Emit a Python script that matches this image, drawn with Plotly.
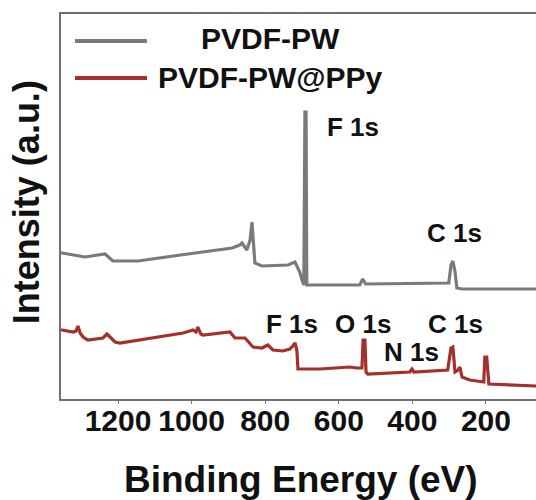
import plotly.graph_objects as go

# Binding energy (eV) and intensity (a.u.) for each survey spectrum
pw_energy = [1355, 1352, 1290, 1235, 1214, 1146, 1010, 890, 869, 863, 850, 841, 836, 833, 828,
             809, 738, 719, 706, 700, 695, 692, 689, 687, 543, 535, 527, 301, 295, 290, 284,
             279, 265, 64]
pw_intensity = [146, 146, 142, 145, 138, 138, 145, 151, 154, 156, 149, 159, 177, 159, 136,
                133, 134, 137, 127, 119, 114, 287, 287, 114, 114, 120, 115, 116, 134, 138, 127,
                111, 110, 110]

ppy_energy = [1355, 1352, 1322, 1314, 1309, 1303, 1295, 1282, 1241, 1230, 1219, 1208, 1195,
              1023, 996, 988, 983, 975, 969, 896, 882, 855, 833, 809, 793, 779, 752, 733, 725,
              719, 714, 711, 651, 570, 551, 537, 534, 529, 526, 521, 407, 401, 396, 304, 295,
              290, 284, 276, 271, 265, 244, 206, 203, 198, 192, 64]
ppy_intensity = [69, 69, 67, 68, 73, 66, 62, 59, 61, 65, 61, 57, 56,
                 66, 69, 67, 72, 65, 64, 67, 61, 61, 52, 51, 54, 49, 48, 50, 53,
                 56, 49, 30, 30, 32, 31, 31, 59, 59, 27, 25, 27, 30, 27, 29, 51,
                 52, 27, 29, 32, 22, 19, 17, 42, 42, 15, 13]

series_names = ["PVDF-PW", "PVDF-PW@PPy"]
series_colors = ["#7a7a7a", "#a3302a"]

# Peak labels: (text, energy, intensity)
peak_labels = [
    ("F 1s", 562, 272),
    ("C 1s", 285, 166),
    ("F 1s", 726, 75),
    ("O 1s", 534, 75),
    ("C 1s", 283, 75),
    ("N 1s", 403, 47),
]

x_ticks = [1200, 1000, 800, 600, 400, 200]

FONT = "Arial, 'Liberation Sans', sans-serif"

fig = go.Figure()
fig.add_trace(go.Scatter(x=pw_energy, y=pw_intensity, mode="lines", name=series_names[0],
                         line=dict(color=series_colors[0], width=3.2)))
fig.add_trace(go.Scatter(x=ppy_energy, y=ppy_intensity, mode="lines", name=series_names[1],
                         line=dict(color=series_colors[1], width=3.2)))

for text, ex, iy in peak_labels:
    fig.add_annotation(x=ex, y=iy, text=text, showarrow=False, xanchor="center", yanchor="middle",
                       font=dict(family=FONT, size=26, color="#111111", weight="bold"))

# Legend drawn as short line samples with centred labels
legend_rows = [(0.930, 0.936), (0.834, 0.834)]
for (ly, ty), name, color in zip(legend_rows, series_names, series_colors):
    fig.add_shape(type="line", xref="paper", yref="paper", x0=0.0295, x1=0.181, y0=ly, y1=ly,
                  line=dict(color=color, width=4))
    fig.add_annotation(xref="paper", yref="paper", x=0.44, y=ty, text=name, showarrow=False,
                       xanchor="center", yanchor="middle",
                       font=dict(family=FONT, size=30, color="#111111", weight="bold"))

# Axis titles
fig.add_annotation(xref="paper", yref="paper", x=0.505, y=-0.210, text="Binding Energy (eV)",
                   showarrow=False, xanchor="center", yanchor="middle",
                   font=dict(family=FONT, size=37, color="#111111", weight="bold"))
fig.add_annotation(xref="paper", yref="paper", x=-0.071, y=0.512, text="Intensity (a.u.)",
                   textangle=-90, showarrow=False, xanchor="center", yanchor="middle",
                   font=dict(family=FONT, size=36, color="#111111", weight="bold"))

fig.update_layout(
    width=536, height=500,
    margin=dict(l=61, r=0, t=14, b=101),
    paper_bgcolor="white", plot_bgcolor="white",
    showlegend=False,
    xaxis=dict(range=[1355, 64], tickvals=x_ticks, ticktext=[str(v) for v in x_ticks],
               ticks="outside", ticklen=3, tickwidth=1, tickcolor="#777777",
               ticklabelstandoff=-9,
               showline=True, linecolor="#707070", linewidth=2, mirror=True,
               showgrid=False, zeroline=False,
               tickfont=dict(family=FONT, size=30, color="#111111", weight="bold")),
    yaxis=dict(range=[0, 385], showticklabels=False, ticks="",
               showline=True, linecolor="#707070", linewidth=2,
               showgrid=False, zeroline=False),
)

fig.write_html("out.html")
